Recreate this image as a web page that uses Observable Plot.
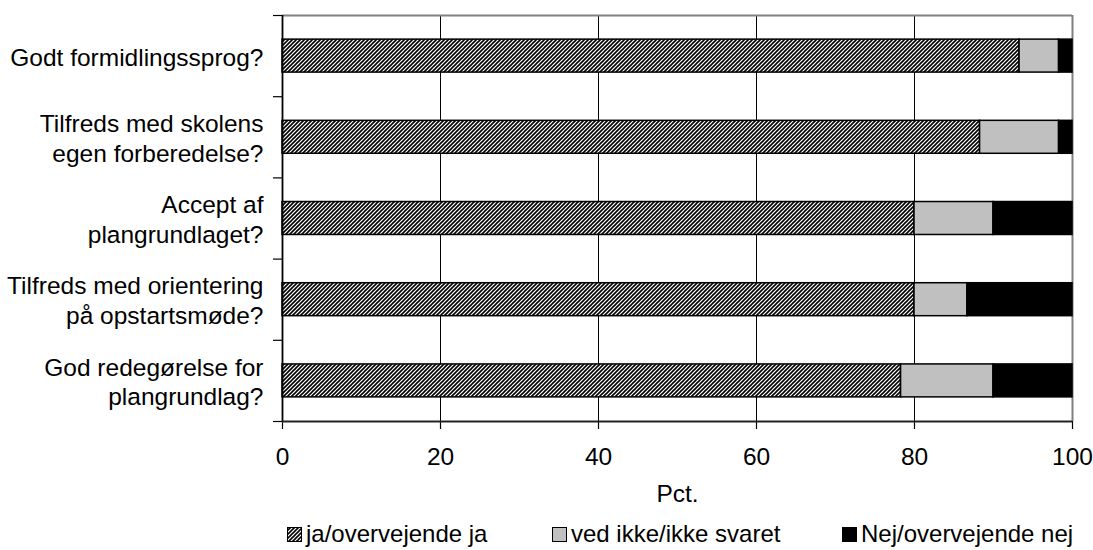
<!DOCTYPE html>
<html>
<head>
<meta charset="utf-8">
<script src="https://cdn.jsdelivr.net/npm/d3@7"></script>
<script src="https://cdn.jsdelivr.net/npm/@observablehq/plot@0.6"></script>
<style>
  html, body { margin: 0; padding: 0; background: #fff; }
  body { font-family: "Liberation Sans", Arial, sans-serif; }
  #wrap { position: relative; width: 1093px; height: 550px; overflow: hidden; }
  #legend { position: relative; height: 25px; font-size: 24px; line-height: 24px; color: #000; }
  .item { position: absolute; top: 0px; display: flex; align-items: center; white-space: nowrap; }
  .sw { width: 15px; height: 15px; border: 1px solid #000; margin-right: 4px; box-sizing: border-box; }
</style>
</head>
<body>
<div id="wrap">
  <div id="chart"></div>
  <div id="legend"></div>
</div>
<script>
// ---- data ----
const categories = [
  "Godt formidlingssprog?",
  "Tilfreds med skolens\negen forberedelse?",
  "Accept af\nplangrundlaget?",
  "Tilfreds med orientering\npå opstartsmøde?",
  "God redegørelse for\nplangrundlag?"
];
const seriesNames = ["ja/overvejende ja", "ved ikke/ikke svaret", "Nej/overvejende nej"];
const jaValues = [93.3, 88.3, 80.0, 80.0, 78.3];
const vedIkkeValues = [5.0, 10.0, 10.0, 6.7, 11.7];
const nejValues = [1.7, 1.7, 10.0, 13.3, 10.0];
const xTicks = [0, 20, 40, 60, 80, 100];
const gridTicks = [20, 40, 60, 80];

// ---- build table ----
const seriesValues = [jaValues, vedIkkeValues, nejValues];
const rows = [];
categories.forEach((c, i) => {
  let acc = 0;
  seriesNames.forEach((s, k) => {
    const v = seriesValues[k][i];
    rows.push({category: c, index: i, series: s, x1: acc, x2: acc + v});
    acc += v;
  });
});
const pad = 0.297;
const fonts = "'Liberation Sans', Arial, sans-serif";
const fs = 24.5;

const chart = Plot.plot({
  width: 1093,
  height: 522,
  marginLeft: 282,
  marginRight: 21,
  marginTop: 15,
  marginBottom: 101,
  style: {fontFamily: fonts, fontSize: fs + "px", color: "#000", background: "#fff"},
  x: {domain: [0, 100]},
  y: {domain: [5, 0]},
  color: {type: "ordinal", domain: seriesNames, range: ["url(#hatch)", "#c0c0c0", "#000000"]},
  marks: [
    Plot.ruleX(gridTicks, {stroke: "#000", strokeWidth: 1}),
    Plot.ruleX([100], {stroke: "#808080", strokeWidth: 2}),
    Plot.ruleY([0], {stroke: "#808080", strokeWidth: 2}),
    Plot.rect(rows, {
      x1: "x1", x2: "x2",
      y1: d => d.index + pad, y2: d => d.index + 1 - pad,
      fill: "series", stroke: "#000", strokeWidth: 1.5
    }),
    Plot.axisX({
      ticks: xTicks, tickSize: 8, tickPadding: 18, tickFormat: d3.format("d"),
      fontSize: fs, stroke: "#000", strokeWidth: 1.2,
      label: "Pct.", labelAnchor: "center", labelArrow: "none", labelOffset: 80
    }),
    Plot.axisY({
      ticks: [0, 1, 2, 3, 4, 5], tickSize: 9, tickFormat: () => "", stroke: "#000", strokeWidth: 1.2, label: null
    }),
    Plot.ruleX([0], {stroke: "#000", strokeWidth: 1.8}),
    Plot.ruleY([5], {stroke: "#222", strokeWidth: 1.8}),
    Plot.text(categories, {
      y: (d, i) => i + 0.5, frameAnchor: "left", dx: -19, text: d => d,
      textAnchor: "end", lineAnchor: "middle", lineHeight: 1.22, fontSize: fs, fill: "#000"
    })
  ]
});

// hatch pattern defs
const ns = "http://www.w3.org/2000/svg";
const defs = document.createElementNS(ns, "defs");
defs.innerHTML = `<pattern id="hatch" patternUnits="userSpaceOnUse" width="4" height="4">
  <rect width="4" height="4" fill="#fff"/>
  <path d="M-1,1 l2,-2 M0,4 l4,-4 M3,5 l2,-2" stroke="#000" stroke-width="1.6"/>
</pattern>`;
chart.insertBefore(defs, chart.firstChild);
document.getElementById("chart").appendChild(chart);

// legend
const legendLefts = [287, 552, 842];
const swatchFills = ["hatch", "#c0c0c0", "#000000"];
const legend = document.getElementById("legend");
seriesNames.forEach((s, k) => {
  const item = document.createElement("div");
  item.className = "item";
  item.style.left = legendLefts[k] + "px";
  let sw;
  if (swatchFills[k] === "hatch") {
    sw = document.createElement("div");
    sw.className = "sw";
    sw.style.border = "none";
    sw.innerHTML = `<svg width="15" height="15" style="display:block"><defs><pattern id="hatchL" patternUnits="userSpaceOnUse" width="4" height="4"><rect width="4" height="4" fill="#fff"/><path d="M-1,1 l2,-2 M0,4 l4,-4 M3,5 l2,-2" stroke="#000" stroke-width="1.6"/></pattern></defs><rect x="0.5" y="0.5" width="14" height="14" fill="url(#hatchL)" stroke="#000" stroke-width="1"/></svg>`;
  } else {
    sw = document.createElement("div");
    sw.className = "sw";
    sw.style.background = swatchFills[k];
  }
  const label = document.createElement("span");
  label.textContent = s;
  item.appendChild(sw);
  item.appendChild(label);
  legend.appendChild(item);
});
</script>
</body>
</html>
